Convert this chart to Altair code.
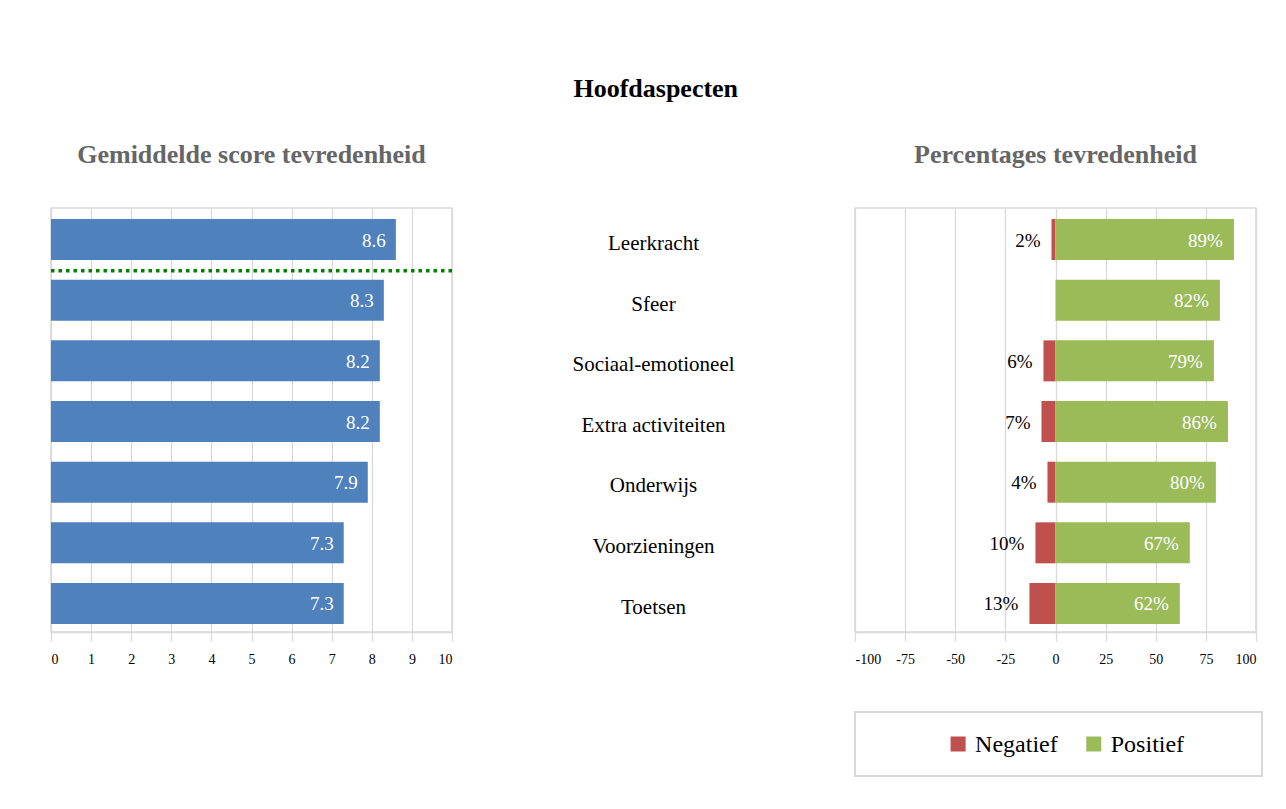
import altair as alt
import pandas as pd

# ---- data ----
categories = ["Leerkracht", "Sfeer", "Sociaal-emotioneel", "Extra activiteiten",
              "Onderwijs", "Voorzieningen", "Toetsen"]
scores = [8.6, 8.3, 8.2, 8.2, 7.9, 7.3, 7.3]
negatief = [2, 0, 6, 7, 4, 10, 13]
positief = [89, 82, 79, 86, 80, 67, 62]
score_ticks = [0, 1, 2, 3, 4, 5, 6, 7, 8, 9, 10]
pct_ticks = [-100, -75, -50, -25, 0, 25, 50, 75, 100]
legend_labels = ["Negatief", "Positief"]
legend_colors = ["#C0504D", "#9BBB59"]
separator_above = ["Sfeer"]

FONT = "Liberation Serif"
GRID = "#d9d9d9"

df_score = pd.DataFrame({"cat": categories, "score": scores})

rows = []
for c, n, p in zip(categories, negatief, positief):
    rows.append({"cat": c, "series": "Negatief", "value": -n, "label": f"{n}%" if n else ""})
    rows.append({"cat": c, "series": "Positief", "value": p, "label": f"{p}%"})
df_pct = pd.DataFrame(rows)

band = alt.Scale(paddingInner=0.324, paddingOuter=0.157, align=0.58)
color_scale = alt.Scale(domain=legend_labels, range=legend_colors)

# ---- left panel: mean score ----
y_left = alt.Y("cat:N", sort=categories, axis=None, scale=band)
x_score = alt.X("score:Q", scale=alt.Scale(domain=[0, 10], nice=False),
                axis=alt.Axis(values=score_ticks, title=None, grid=True, format="d"))
base_left = alt.Chart(df_score).encode(y=y_left)
bars_left = base_left.mark_bar(color="#4F81BD").encode(x=x_score)
text_left = base_left.mark_text(align="right", dx=-10, dy=1, color="white", font=FONT,
                                fontSize=19, baseline="middle").encode(
    x="score:Q", text=alt.Text("score:Q", format=".1f"))
sep = alt.Chart(pd.DataFrame({"cat": separator_above})).mark_rule(
    color="#008000", strokeWidth=3.5, strokeDash=[3.5, 4], yOffset=-9).encode(
    y=alt.Y("cat:N", sort=categories, bandPosition=0, axis=None, scale=band),
    x=alt.datum(0), x2=alt.datum(10))
left = alt.layer(bars_left, text_left, sep).properties(
    width=401, height=424,
    title=alt.TitleParams("Gemiddelde score tevredenheid", fontSize=26, fontWeight="bold",
                          color="#666666", font=FONT, anchor="middle", offset=40))

# ---- middle panel: category names ----
middle = alt.Chart(df_score).mark_text(font=FONT, fontSize=21, color="black",
                                       baseline="middle", dy=1).encode(
    y=alt.Y("cat:N", sort=categories, axis=None, scale=band),
    text="cat:N").properties(width=403, height=424,
                             view=alt.ViewBackground(strokeOpacity=0))

# ---- right panel: percentages ----
y_right = alt.Y("cat:N", sort=categories, axis=None, scale=band)
x_pct = alt.X("value:Q", stack=None, scale=alt.Scale(domain=[-100, 100], nice=False),
              axis=alt.Axis(values=pct_ticks, title=None, grid=True,
                            labelExpr="datum.value + ''"))
base_right = alt.Chart(df_pct).encode(y=y_right)
bars_right = base_right.mark_bar().encode(
    x=x_pct, color=alt.Color("series:N", scale=color_scale, legend=None))
text_pos = base_right.transform_filter("datum.series == 'Positief'").mark_text(
    align="right", dx=-11, dy=1, color="white", font=FONT, fontSize=19,
    baseline="middle").encode(x=alt.X("value:Q", stack=None), text="label:N")
text_neg = base_right.transform_filter("datum.series == 'Negatief'").mark_text(
    align="right", dx=-11, dy=1, color="black", font=FONT, fontSize=19,
    baseline="middle").encode(x=alt.X("value:Q", stack=None), text="label:N")
right = alt.layer(bars_right, text_pos, text_neg).properties(
    width=401, height=424,
    title=alt.TitleParams("Percentages tevredenheid", fontSize=26, fontWeight="bold",
                          color="#666666", font=FONT, anchor="middle", offset=40))

# ---- legend box ----
df_leg = pd.DataFrame({"series": legend_labels})
leg_x = alt.X("series:N", sort=legend_labels, axis=None,
              scale=alt.Scale(type="point", padding=1.102, align=0.38))
leg_sq = alt.Chart(df_leg).mark_square(size=225, opacity=1).encode(
    x=leg_x, color=alt.Color("series:N", scale=color_scale, legend=None))
leg_tx = alt.Chart(df_leg).mark_text(align="left", dx=17, dy=1, font=FONT, fontSize=24,
                                     color="black", baseline="middle").encode(
    x=leg_x, text="series:N")
legend = alt.layer(leg_sq, leg_tx).properties(
    width=407, height=64, view=alt.ViewBackground(stroke=GRID, strokeWidth=2))

right_col = alt.vconcat(right, legend, spacing=80, bounds="flush")

chart = alt.hconcat(left, middle, right_col, spacing=0, bounds="flush").properties(
    title=alt.TitleParams("Hoofdaspecten", fontSize=26, fontWeight="bold", font=FONT,
                          color="black", anchor="middle", offset=39),
    padding={"left": 40, "top": 68, "right": 5, "bottom": 5},
).configure(font=FONT).configure_view(stroke=GRID, strokeWidth=1.5).configure_axis(
    gridColor=GRID, domainColor=GRID, tickColor=GRID, labelFont=FONT, labelFontSize=14,
    labelColor="black", tickSize=9, gridWidth=1.3, domainWidth=1.5, tickWidth=1.3,
    labelPadding=11
)

chart.save("out.html", embed_options={"renderer": "svg", "actions": False})
